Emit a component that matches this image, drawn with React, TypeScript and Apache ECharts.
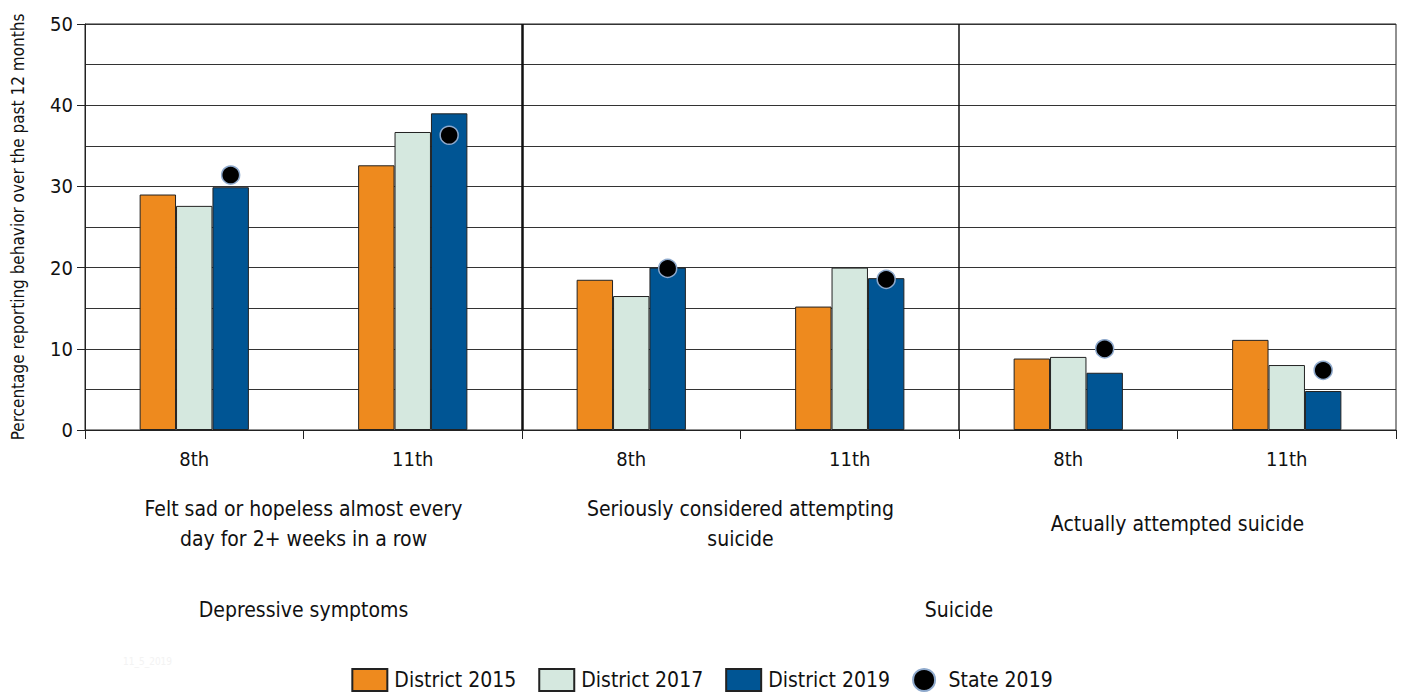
import React, { useEffect, useRef } from "react";
import * as echarts from "echarts";

const categories = ["8th", "11th", "8th", "11th", "8th", "11th"];
const subgroups = [
  "Felt sad or hopeless almost every\nday for 2+ weeks in a row",
  "Seriously considered attempting\nsuicide",
  "Actually attempted suicide",
];
const topGroups = ["Depressive symptoms", "Suicide"];
const topGroupSpans = [2, 4];

const district2015 = [29.0, 32.6, 18.5, 15.2, 8.8, 11.1];
const district2017 = [27.6, 36.7, 16.5, 20.0, 9.0, 8.0];
const district2019 = [29.9, 39.0, 20.0, 18.7, 7.05, 4.8];
const state2019 = [31.4, 36.3, 19.9, 18.55, 10.0, 7.35];

const yMin = 0;
const yMax = 50;
const yInterval = 10;

const seriesNames = ["District 2015", "District 2017", "District 2019", "State 2019"];
const stampText = "11_5_2019";

const FONT = "'DejaVu Sans Condensed', 'Liberation Sans', sans-serif";

export default function App() {
  const ref = useRef<HTMLDivElement>(null);
  useEffect(() => {
    if (!ref.current) return;
    const chart = echarts.init(ref.current, null, { renderer: "svg" });
    const W = 1404;
    const gridLeft = 85;
    const gridRight = 8;
    const catW = (W - gridLeft - gridRight) / categories.length;
    const barW = (catW * 0.5) / 3;

    const topCenters: Record<number, string> = {};
    let acc = 0;
    topGroups.forEach((g, i) => {
      topCenters[acc + topGroupSpans[i] / 2] = g;
      acc += topGroupSpans[i];
    });
    const sepData: any[] = [];
    for (let i = 1; i < subgroups.length; i++) {
      const pos = (i * categories.length) / subgroups.length;
      const isTop = pos === topGroupSpans[0];
      sepData.push({ xAxis: pos, lineStyle: { width: isTop ? 2.5 : 1.5 } });
    }

    const barBorder = { borderColor: "#222", borderWidth: 1 };

    chart.setOption({
      animation: false,
      textStyle: { fontFamily: FONT },
      grid: {
        left: gridLeft,
        right: gridRight,
        top: 24,
        bottom: 268,
        show: true,
        borderColor: "#222",
        borderWidth: 1,
        backgroundColor: "transparent",
        containLabel: false,
        outerBoundsMode: "none",
      },
      legend: {
        bottom: 1,
        left: "center",
        itemWidth: 35,
        itemHeight: 22,
        itemGap: 22,
        data: [
          { name: seriesNames[0], icon: "rect" },
          { name: seriesNames[1], icon: "rect" },
          { name: seriesNames[2], icon: "rect" },
          { name: seriesNames[3], icon: "circle" },
        ],
        textStyle: { fontSize: 21, color: "#111", fontFamily: FONT, padding: [0, 0, 0, 2] },
      },
      xAxis: [
        {
          type: "category",
          data: categories,
          position: "bottom",
          axisLine: { show: true, lineStyle: { color: "#222", width: 1 } },
          axisTick: { show: true, length: 9, lineStyle: { color: "#222" } },
          axisLabel: {
            fontSize: 20,
            color: "#111",
            margin: 29,
            verticalAlign: "middle",
            fontFamily: FONT,
          },
          splitLine: { show: false },
        },
        {
          type: "category",
          data: subgroups,
          position: "bottom",
          axisLine: { show: false },
          axisTick: { show: false },
          axisLabel: {
            fontSize: 21,
            color: "#111",
            margin: 94,
            lineHeight: 30,
            verticalAlign: "middle",
            interval: 0,
            fontFamily: FONT,
          },
          splitLine: { show: false },
        },
        {
          type: "value",
          min: 0,
          max: categories.length,
          interval: 1,
          position: "bottom",
          axisLine: { show: false },
          axisTick: { show: false },
          splitLine: { show: false },
          axisLabel: {
            fontSize: 21,
            color: "#111",
            margin: 180,
            verticalAlign: "middle",
            fontFamily: FONT,
            showMinLabel: true,
            showMaxLabel: true,
            formatter: (v: number) => topCenters[v] || "",
          },
        },
      ],
      yAxis: {
        type: "value",
        min: yMin,
        max: yMax,
        interval: yInterval,
        name: "Percentage reporting behavior over the past 12 months",
        nameLocation: "middle",
        nameRotate: 90,
        nameGap: 59,
        nameTextStyle: { fontSize: 17, color: "#111", fontFamily: FONT },
        axisLine: { show: true, lineStyle: { color: "#222", width: 1 } },
        axisTick: { show: true, length: 8, lineStyle: { color: "#222" } },
        axisLabel: { fontSize: 20, color: "#111", margin: 12, fontFamily: FONT },
        splitLine: { show: true, lineStyle: { color: "#333", width: 1 } },
        minorTick: { show: false, splitNumber: 2 },
        minorSplitLine: { show: true, lineStyle: { color: "#333", width: 1 } },
      },
      series: [
        {
          name: seriesNames[0],
          type: "bar",
          data: district2015,
          barGap: "0%",
          barCategoryGap: "50%",
          itemStyle: { color: "#EE8A1E", ...barBorder },
        },
        {
          name: seriesNames[1],
          type: "bar",
          data: district2017,
          barGap: "0%",
          barCategoryGap: "50%",
          itemStyle: { color: "#D5E8DF", ...barBorder },
        },
        {
          name: seriesNames[2],
          type: "bar",
          data: district2019,
          barGap: "0%",
          barCategoryGap: "50%",
          itemStyle: { color: "#005594", ...barBorder },
        },
        {
          name: seriesNames[3],
          type: "scatter",
          data: state2019,
          symbol: "circle",
          symbolSize: 18,
          symbolOffset: [barW, 0],
          z: 5,
          itemStyle: { color: "#000", borderColor: "#8EA9CC", borderWidth: 1.5, opacity: 1 },
        },
        {
          name: "separators",
          type: "line",
          xAxisIndex: 2,
          data: [],
          silent: true,
          markLine: {
            symbol: "none",
            silent: true,
            animation: false,
            label: { show: false },
            lineStyle: { color: "#111", type: "solid" },
            data: sepData,
          },
        },
      ],
      graphic: [
        {
          type: "text",
          left: 123,
          top: 656,
          style: { text: stampText, fontSize: 10, fill: "#f3f3f3", fontFamily: FONT },
        },
      ],
    });
    return () => chart.dispose();
  }, []);
  return (
    <div
      ref={ref}
      style={{ position: "fixed", left: 0, top: 0, width: 1404, height: 698, background: "#fff" }}
    />
  );
}
